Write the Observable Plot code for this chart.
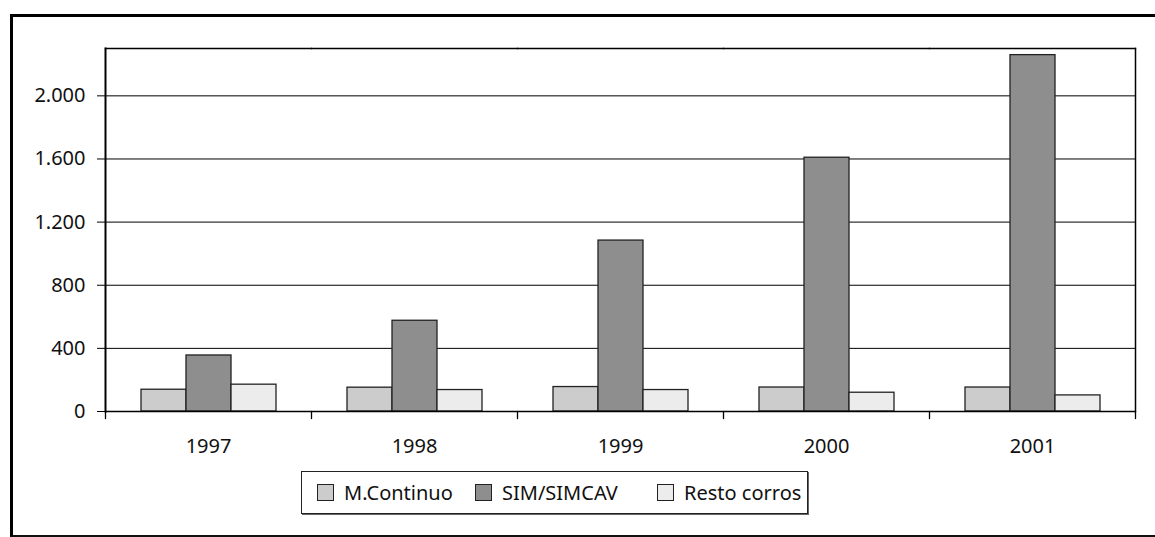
<!DOCTYPE html>
<html>
<head>
<meta charset="utf-8">
<script src="https://cdn.jsdelivr.net/npm/d3@7"></script>
<script src="https://cdn.jsdelivr.net/npm/@observablehq/plot@0.6"></script>
<style>
  html, body { margin: 0; padding: 0; background: #fff; }
  body { width: 1155px; height: 537px; overflow: hidden; position: relative; font-family: "Noto Sans", "Open Sans", sans-serif; color: #111; }
  #chart { position: absolute; left: 0; top: 0; }
  #border { position: absolute; left: 10px; top: 14px; width: 1200px; height: 523px; box-sizing: border-box;
            border-left: 3px solid #000; border-top: 3px solid #000; border-bottom: 2px solid #111; pointer-events: none; }
  #legend { position: absolute; left: 301px; top: 471px; width: 507px; height: 43px; box-sizing: border-box;
            border: 1px solid #222; box-shadow: 1px 1px 0 #666; display: flex; align-items: center; padding-left: 15px; font-size: 20px; }
  .item { display: flex; align-items: center; }
  .sw { width: 15px; height: 15px; border: 1px solid #222; margin-right: 10px; }
</style>
</head>
<body>
<div id="chart"></div>
<div id="border"></div>
<div id="legend"></div>
<script>
const years = ["1997", "1998", "1999", "2000", "2001"];
const series = ["M.Continuo", "SIM/SIMCAV", "Resto corros"];
const colors = ["#cccccc", "#8e8e8e", "#ececec"];
const mContinuo = [138, 151, 155, 152, 152];
const simSimcav = [355, 575, 1083, 1608, 2258];
const restoCorros = [170, 136, 136, 119, 102];
const yTicks = [0, 400, 800, 1200, 1600, 2000];
const yMax = 2300;

const seriesValues = [mContinuo, simSimcav, restoCorros];
const data = [];
years.forEach((yr, i) => series.forEach((s, j) => data.push({year: yr, series: s, value: seriesValues[j][i]})));

const fmt = d3.formatLocale({decimal: ",", thousands: ".", grouping: [3], currency: ["", ""]}).format(",");
const tickShape = {draw(context, l) { context.moveTo(0, 0); context.lineTo(0, -l); }};

const chart = Plot.plot({
  width: 1155,
  height: 537,
  marginLeft: 105,
  marginRight: 20,
  marginTop: 48,
  marginBottom: 126,
  style: {fontFamily: '"Noto Sans", "Open Sans", sans-serif', fontSize: "20px", color: "#111", background: "transparent"},
  fx: {domain: years, padding: 0},
  x: {domain: series, paddingInner: 0, paddingOuter: 0.764, axis: null},
  y: {domain: [0, yMax], axis: null},
  color: {domain: series, range: colors},
  marks: [
    Plot.gridY(yTicks, {stroke: "#000", strokeOpacity: 1, strokeWidth: 1}),
    Plot.barY(data, {fx: "year", x: "series", y: "value", fill: "series", stroke: "#222", strokeWidth: 1.3}),
    Plot.ruleY([0], {stroke: "#000", strokeWidth: 1.3}),
    Plot.frame({anchor: "top", stroke: "#000", strokeWidth: 1.3}),
    Plot.frame({anchor: "left", facetAnchor: "left", stroke: "#000", strokeWidth: 2}),
    Plot.frame({anchor: "right", facetAnchor: "right", stroke: "#000", strokeWidth: 1.5}),
    Plot.vector([0], {frameAnchor: "bottom-left", length: 7, rotate: 180, anchor: "start", shape: tickShape, stroke: "#000", strokeWidth: 1.3}),
    Plot.vector([0], {frameAnchor: "bottom-right", facetAnchor: "right", length: 7, rotate: 180, anchor: "start", shape: tickShape, stroke: "#000", strokeWidth: 1.3}),
    Plot.axisY({ticks: yTicks, tickSize: 8, tickPadding: 12, tickFormat: fmt, label: null, stroke: "#000", fontSize: 20}),
    Plot.axisFx({anchor: "bottom", tickSize: 0, tickPadding: 27, label: null, fontSize: 20})
  ]
});
document.getElementById("chart").appendChild(chart);

const itemWidths = [158, 182, null];
const legend = document.getElementById("legend");
series.forEach((s, i) => {
  const it = document.createElement("div");
  it.className = "item";
  if (itemWidths[i]) it.style.width = itemWidths[i] + "px";
  const sw = document.createElement("div");
  sw.className = "sw";
  sw.style.background = colors[i];
  const tx = document.createElement("span");
  tx.textContent = s;
  it.appendChild(sw);
  it.appendChild(tx);
  legend.appendChild(it);
});
</script>
</body>
</html>
